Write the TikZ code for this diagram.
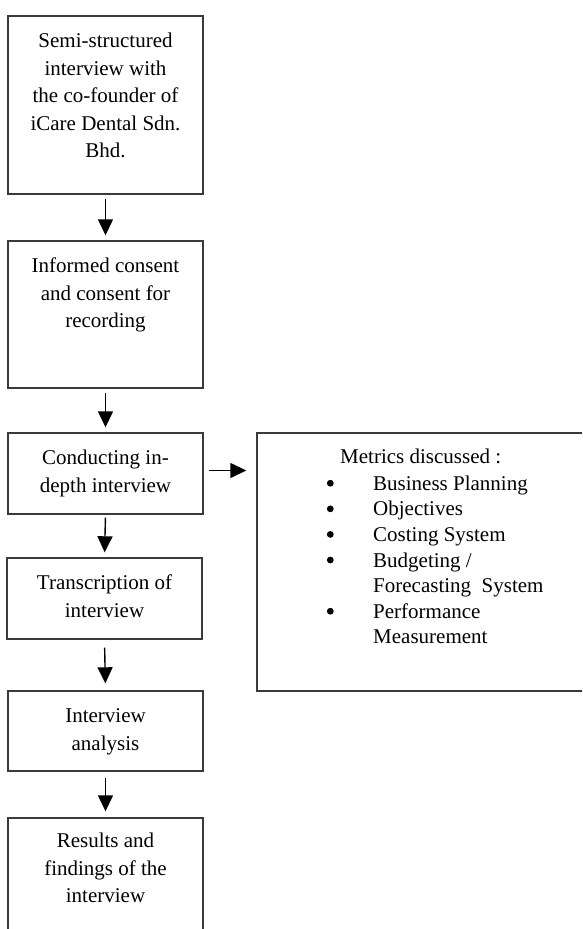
\documentclass[tikz,border=0pt]{standalone}
\usepackage{fontspec}
\setmainfont{Liberation Serif}
\usetikzlibrary{arrows.meta}
\definecolor{boxline}{HTML}{3A3A3A}
\newcommand\bdot{\tikz[baseline=-7pt]\fill[black] (0pt,0pt) circle (3.4pt);}
\newcommand\bitem{\makebox[46.7pt][l]{\hspace*{0.4pt}\bdot}}
\newcommand\bind{\hspace*{46.7pt}}
\begin{document}
\begin{tikzpicture}[x=1pt,y=-1pt,
  box/.style={draw=boxline,line width=1.4pt,rectangle,inner sep=0pt},
  txt/.style={font=\fontsize{21}{27.5}\selectfont,align=center,anchor=north,inner sep=0pt},
  lst/.style={font=\fontsize{21}{25.6}\selectfont,align=left,inner sep=0pt},
  arr/.style={-{Triangle[length=16pt,width=15pt]},line width=1.4pt,black}]
\path[use as bounding box] (0,0) rectangle (582,929);
\clip (0,0) rectangle (582,929);
% boxes
\node[box,minimum width=195pt,minimum height=178pt] (b1) at (105.5,105) {};
\node[box,minimum width=195pt,minimum height=147pt] (b2) at (105.5,314.5) {};
\node[box,minimum width=195pt,minimum height=81pt] (b3) at (105.5,473.5) {};
\node[box,minimum width=195pt,minimum height=81pt] (b4) at (104.5,598.5) {};
\node[box,minimum width=195pt,minimum height=80pt] (b5) at (105.5,731) {};
\node[box,minimum width=195pt,minimum height=130pt] (b6) at (105.5,883) {};
\node[box,minimum width=343pt,minimum height=258pt] (m) at (428.5,562) {};
% texts
\node[txt] (t1) at ([yshift=-12.75pt]b1.north) {\strut Semi-structured\\interview with\\the co-founder of\\iCare Dental Sdn.\\Bhd.};
\node[txt] (t2) at ([yshift=-12.75pt]b2.north) {\strut Informed consent\\and consent for\\recording};
\node[txt] (t3) at ([yshift=-12.75pt]b3.north) {\strut Conducting in-\\depth interview};
\node[txt] (t4) at ([yshift=-12.75pt]b4.north) {\strut Transcription of\\interview};
\node[txt] (t5) at ([yshift=-12.75pt]b5.north) {\strut Interview\\analysis};
\node[txt] (t6) at ([yshift=-11pt]b6.north) {\strut Results and\\findings of the\\interview};
\node[font=\fontsize{21}{25.6}\selectfont,anchor=base west,inner sep=0pt] (mh) at (340,463) {Metrics discussed :};
\node[lst,anchor=north west] (ml) at (326.3,472.1) {\strut\bitem Business Planning\\\bitem Objectives\\\bitem Costing System\\\bitem Budgeting /\\\bind Forecasting\ \ System\\\bitem Performance\\\bind Measurement};
% connectors
\draw[arr,shorten <=4pt,shorten >=5pt] (b1.south) -- (b2.north);
\draw[arr,shorten <=4pt,shorten >=5pt] (b2.south) -- (b3.north);
\draw[arr,shorten <=3pt,shorten >=5pt] (b3.south) -- (b4.north);
\draw[arr,shorten <=8pt,shorten >=7pt] (b4.south) -- (b5.north);
\draw[arr,shorten <=6pt,shorten >=6pt] (b5.south) -- (b6.north);
\draw[arr,shorten <=5pt,shorten >=10pt] (b3.east) ++(0,-3) coordinate (a3) (a3) -- (a3 -| m.west);
\end{tikzpicture}
\end{document}
